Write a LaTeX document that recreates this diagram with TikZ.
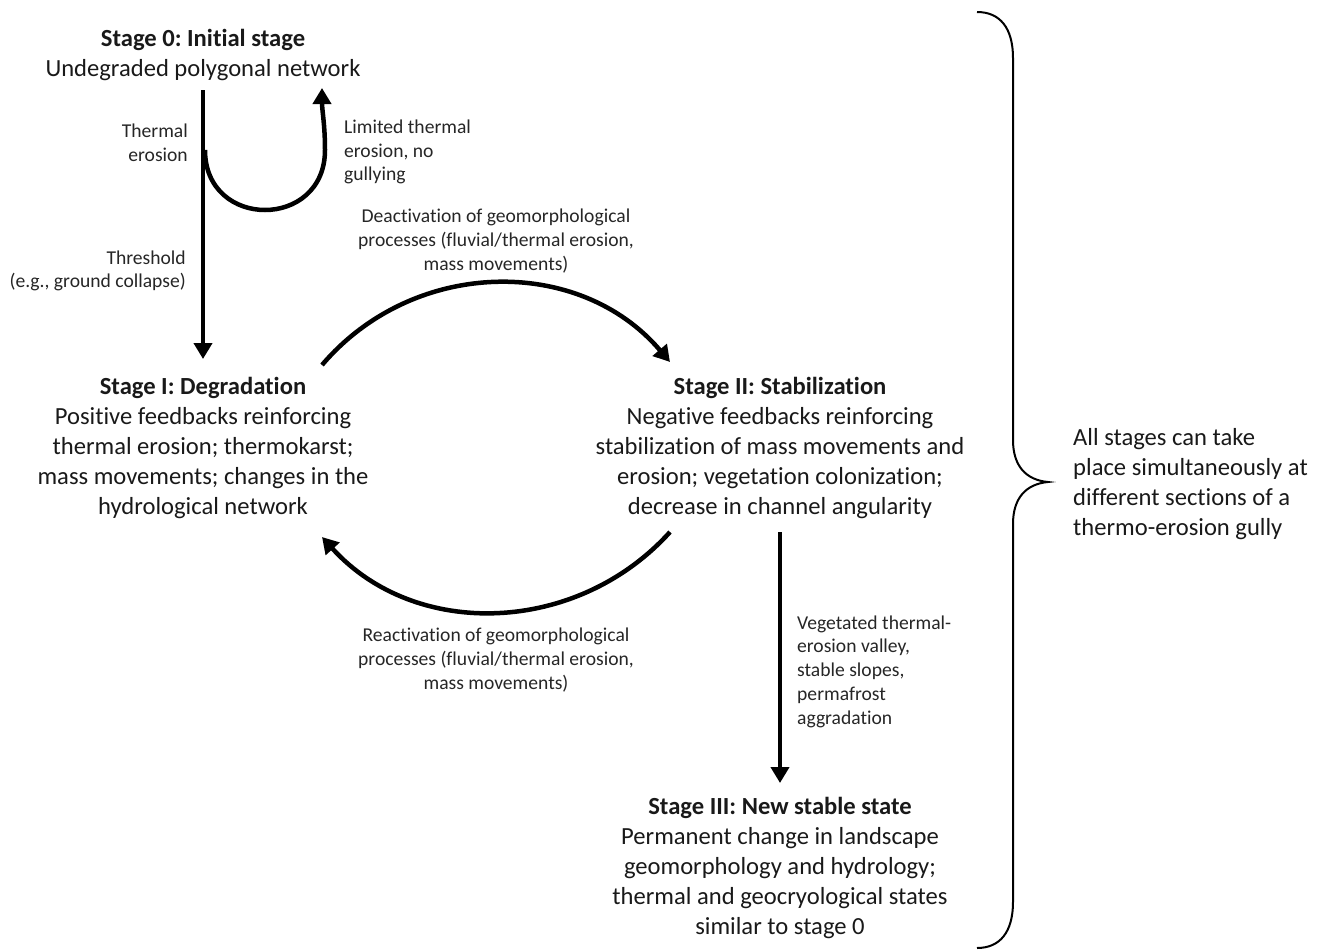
\documentclass[tikz,border=0pt]{standalone}
\usepackage{fontspec}
\setmainfont{Carlito}[Ligatures=NoCommon]
\usetikzlibrary{arrows.meta}
\frenchspacing
\begin{document}
\begin{tikzpicture}[x=1pt,y=-1pt,
  stagebox/.style={align=center, inner sep=0pt, text=black!90, font=\fontsize{24.6}{30}\selectfont\frenchspacing},
  lbl/.style={inner sep=0pt, text=black!85, font=\fontsize{19.6}{23.7}\selectfont\frenchspacing},
  arr/.style={line width=4.5pt, -{Triangle[length=16pt,width=18pt]}},
  bracestyle/.style={line width=2pt},
]
\useasboundingbox (0,0) rectangle (1320,951);

% stage nodes
\node[stagebox] (s0) at (203,54.5) {\textbf{Stage 0: Initial stage}\\Undegraded polygonal network};
\node[stagebox] (s1) at (203,448) {\textbf{Stage I: Degradation}\\Positive feedbacks reinforcing\\thermal erosion; thermokarst;\\mass movements; changes in the\\hydrological network};
\node[stagebox] (s2) at (780,448) {\textbf{Stage II: Stabilization}\\Negative feedbacks reinforcing\\stabilization of mass movements and\\erosion; vegetation colonization;\\decrease in channel angularity};
\node[stagebox] (s3) at (780,868) {\textbf{Stage III: New stable state}\\Permanent change in landscape\\geomorphology and hydrology;\\thermal and geocryological states\\similar to stage 0};
\node[stagebox, align=left, anchor=west] (note) at (1073,484) {All stages can take\\place simultaneously at\\different sections of a\\thermo-erosion gully};

% labels
\node[lbl, align=right, anchor=east] (l1) at (188,143) {Thermal\\erosion};
\node[lbl, align=left, anchor=west] (l2) at (344,152) {Limited thermal\\erosion, no\\gullying};
\node[lbl, align=right, anchor=east] (l3) at (186,271) {Threshold\\(e.g., ground collapse)};
\node[lbl, align=center] (l4) at (496,241) {Deactivation of geomorphological\\processes (fluvial/thermal erosion,\\mass movements)};
\node[lbl, align=center] (l5) at (496,660) {Reactivation of geomorphological\\processes (fluvial/thermal erosion,\\mass movements)};
\node[lbl, align=left, anchor=west] (l6) at (797,671.5) {Vegetated thermal-\\erosion valley,\\stable slopes,\\permafrost\\aggradation};

% connector end points
\coordinate (s0out) at (203,90);
\coordinate (s1in) at (203,359);
\coordinate (loopstart) at (205,150);
\coordinate (loopend) at (322,88);
\coordinate (s1outR) at (322,365);
\coordinate (s2inL) at (670,362);
\coordinate (s2outL) at (670,532);
\coordinate (s1inR) at (322,537);
\coordinate (s2out) at (780,532);
\coordinate (s3in) at (780,783);

% connectors
\draw[arr] (s0out) -- (s1in);
\draw[arr] (loopstart) .. controls (205,230) and (325,230) .. (325,150) .. controls (325,125) and (322,110) .. (loopend);
\draw[arr] (s1outR) .. controls (413,258) and (579,255) .. (s2inL);
\draw[arr] (s2outL) .. controls (577,635) and (415,640) .. (s1inR);
\draw[arr] (s2out) -- (s3in);

% brace
\coordinate (bt) at (977,12);
\coordinate (bb) at (977,948);
\coordinate (btip) at (1048,482);
\draw[bracestyle] (bt) .. controls (1000,12) and (1013,28) .. (1013,58) -- (1013,440)
  .. controls (1013,466) and (1026,480) .. (btip)
  .. controls (1026,484) and (1013,498) .. (1013,524) -- (1013,902)
  .. controls (1013,932) and (1000,948) .. (bb);
\end{tikzpicture}
\end{document}
